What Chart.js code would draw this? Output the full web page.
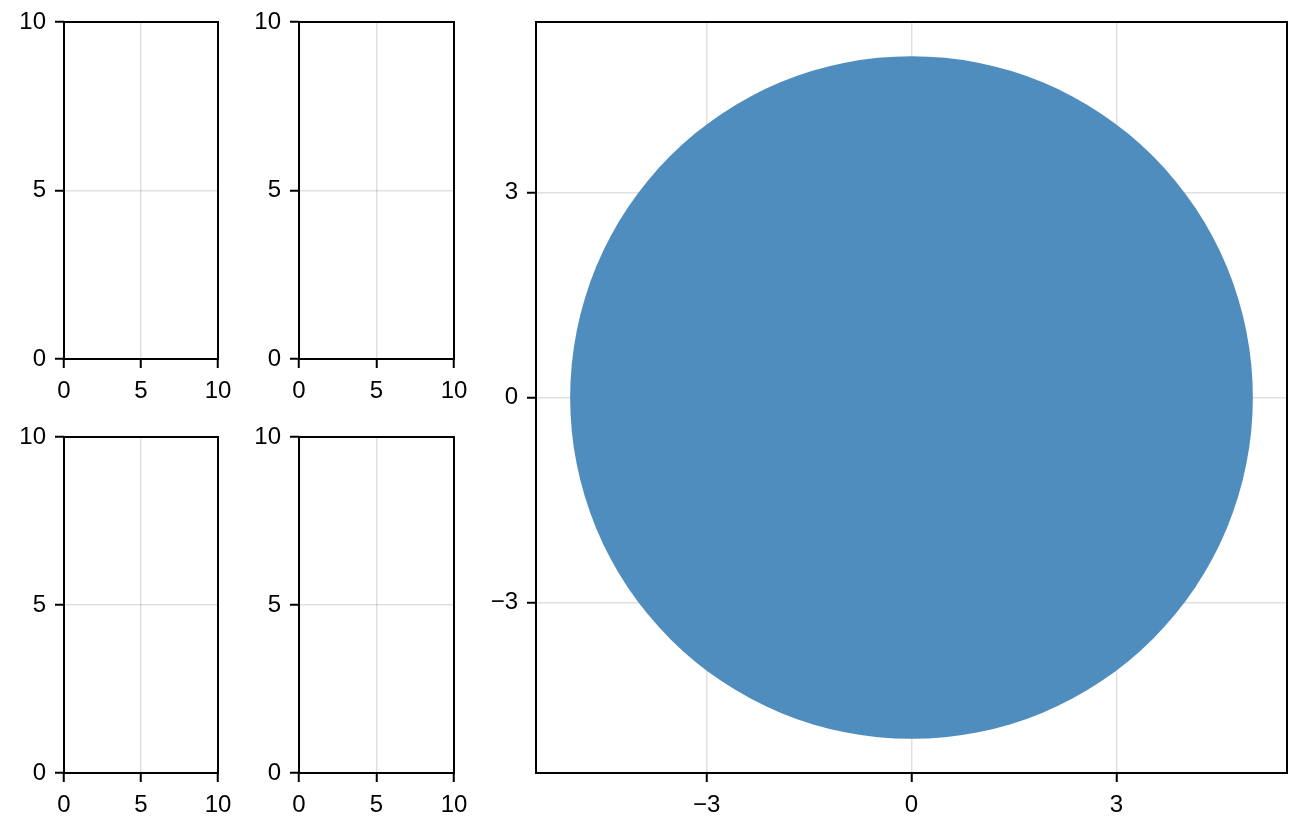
<!DOCTYPE html>
<html>
<head>
<meta charset="utf-8">
<script src="https://cdn.jsdelivr.net/npm/chart.js@4/dist/chart.umd.min.js"></script>
<style>
  html, body { margin: 0; padding: 0; background: #fff; }
  #wrap { position: relative; width: 1308px; height: 832px; overflow: hidden; }
  #wrap canvas { position: absolute; }
</style>
</head>
<body>
<div id="wrap">
  <canvas id="tl" width="240" height="400" style="left:0;top:0"></canvas>
  <canvas id="tr" width="240" height="400" style="left:235px;top:0"></canvas>
  <canvas id="bl" width="240" height="400" style="left:0;top:415px"></canvas>
  <canvas id="br" width="240" height="400" style="left:235px;top:415px"></canvas>
  <canvas id="big" width="838" height="832" style="left:470px;top:0"></canvas>
</div>
<script>
// ── Data ─────────────────────────────────────────────
const smallLimits = [0, 10];
const smallTicks = [0, 5, 10];
const bigLimits = [-5.5, 5.5];
const bigTicks = [-3, 0, 3];
const circleCenter = [{ x: 0, y: 0 }];
const circleRadius = 5;

// ── Style ────────────────────────────────────────────
const FONT = { family: "'Liberation Sans', Arial, sans-serif", size: 24 };
const GRID = "rgba(0,0,0,0.12)";
const FILL = "rgb(79,141,190)";

// frame box around each plot area
const frame = {
  id: "frame",
  afterDraw(chart) {
    const { ctx, chartArea: a } = chart;
    ctx.save();
    ctx.strokeStyle = "#000";
    ctx.lineWidth = 2;
    ctx.strokeRect(a.left, a.top, a.right - a.left, a.bottom - a.top);
    ctx.restore();
  },
};

const fmt = (v) => String(v).replace("-", "\u2212");

function axis(limits, ticks, fit) {
  return {
    type: "linear",
    min: limits[0],
    max: limits[1],
    afterBuildTicks: (s) => { s.ticks = ticks.map((v) => ({ value: v })); },
    afterFit: fit,
    border: { display: false },
    grid: { color: GRID, lineWidth: 1.5, tickColor: "#000", tickWidth: 2, tickLength: 9 },
    ticks: { color: "#000", font: FONT, padding: 9, maxRotation: 0, autoSkip: false, callback: fmt },
  };
}

function makeChart(id, limits, ticks, box, datasets) {
  return new Chart(document.getElementById(id), {
    type: "scatter",
    data: { datasets },
    options: {
      responsive: false,
      animation: false,
      events: [],
      layout: { padding: { left: 0, top: box.top, right: box.right, bottom: 0 } },
      plugins: { legend: { display: false }, tooltip: { enabled: false } },
      scales: {
        x: axis(limits, ticks, (s) => { s.height = box.xh; s.paddingLeft = 0; s.paddingRight = 0; }),
        y: axis(limits, ticks, (s) => { s.width = box.yw; s.paddingTop = 0; s.paddingBottom = 0; }),
      },
    },
    plugins: [frame],
  });
}

makeChart("tl", smallLimits, smallTicks, { top: 22, right: 22, xh: 41, yw: 64 }, []);
makeChart("tr", smallLimits, smallTicks, { top: 22, right: 21, xh: 41, yw: 64 }, []);
makeChart("bl", smallLimits, smallTicks, { top: 22, right: 22, xh: 42, yw: 64 }, []);
makeChart("br", smallLimits, smallTicks, { top: 22, right: 21, xh: 42, yw: 64 }, []);

makeChart("big", bigLimits, bigTicks, { top: 22, right: 21, xh: 59, yw: 66 }, [
  {
    data: circleCenter,
    backgroundColor: FILL,
    borderWidth: 0,
    pointRadius: (ctx) => {
      const s = ctx.chart.scales.x;
      return Math.abs(s.getPixelForValue(circleRadius) - s.getPixelForValue(0));
    },
  },
]);
</script>
</body>
</html>
